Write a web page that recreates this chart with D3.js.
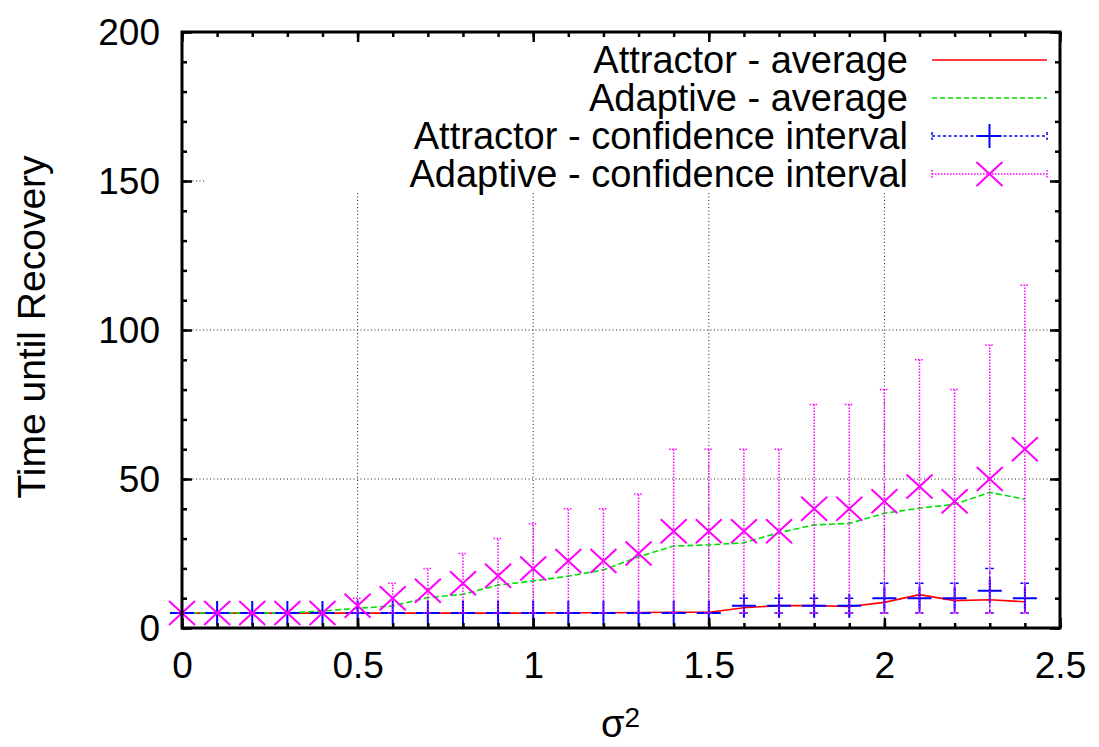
<!DOCTYPE html>
<html>
<head>
<meta charset="utf-8">
<script src="https://cdn.jsdelivr.net/npm/d3@7"></script>
<style>
  body { margin: 0; background: #fff; }
  svg text { font-family: "Liberation Sans", Arial, Helvetica, sans-serif; fill: #000; }
</style>
</head>
<body>
<svg id="chart" width="1099" height="747"></svg>
<script>
// sigma^2 sample points
const sigma2 = [0, 0.1, 0.2, 0.3, 0.4, 0.5, 0.6, 0.7, 0.8, 0.9, 1.0, 1.1, 1.2,
                1.3, 1.4, 1.5, 1.6, 1.7, 1.8, 1.9, 2.0, 2.1, 2.2, 2.3, 2.4];

// mean time until recovery
const attractorAvg = [5, 5, 5, 5, 5, 5, 5, 5, 5, 5, 5, 5.1, 5.1,
                      5.2, 5.3, 5.3, 6.8, 7.5, 7.5, 7.2, 8.6, 11.2, 9.2, 9.5, 8.8];
const adaptiveAvg = [5, 5, 5, 5, 5.7, 6.6, 7.4, 10.2, 11.3, 14.4, 15.8, 17.4, 19.5,
                     23.9, 27.5, 27.9, 28.6, 32, 34.6, 35.1, 38.5, 40.2, 41.5, 45.5, 43.2];

// confidence intervals (point, lower, upper)
const attractorMid = [5, 5, 5, 5, 5, 5, 5, 5, 5, 5, 5, 5, 5,
                      5, 5, 5, 7.5, 7.5, 7.5, 7.5, 10, 10, 10, 12.5, 10];
const attractorLow = [5, 5, 5, 5, 5, 5, 5, 5, 5, 5, 5, 5, 5,
                      5, 5, 5, 5, 5, 5, 5, 5, 5, 5, 5, 5];
const attractorHigh = [5, 5, 5, 5, 5, 5, 5, 5, 5, 5, 5, 5, 5,
                       5, 5, 5, 10, 10, 10, 10, 15, 15, 15, 20, 15];

const adaptiveMid = [5, 5, 5, 5, 5, 7.5, 10, 12.5, 15, 17.5, 20, 22.5, 22.5,
                     25, 32.5, 32.5, 32.5, 32.5, 40, 40, 42.5, 47.5, 42.5, 50, 60];
const adaptiveLow = [5, 5, 5, 5, 5, 5, 5, 5, 5, 5, 5, 5, 5,
                     5, 5, 5, 5, 5, 5, 5, 5, 5, 5, 5, 5];
const adaptiveHigh = [5, 5, 5, 5, 5, 10, 15, 20, 25, 30, 35, 40, 40,
                      45, 60, 60, 60, 60, 75, 75, 80, 90, 80, 95, 115];

// axes
const xTickValues = [0, 0.5, 1, 1.5, 2, 2.5];
const xTickLabels = ["0", "0.5", "1", "1.5", "2", "2.5"];
const yTickValues = [0, 50, 100, 150, 200];
const yTickLabels = ["0", "50", "100", "150", "200"];
const xGridValues = [0.5, 1, 1.5, 2];
const yGridValues = [50, 100, 150];

const legendLabels = ["Attractor - average", "Adaptive - average",
                      "Attractor - confidence interval", "Adaptive - confidence interval"];

const COLORS = { red: "#ff0000", green: "#00e000", blue: "#0000ff", magenta: "#ff00ff" };

const svg = d3.select("#chart");
const plotLeft = 182, plotRight = 1060, plotTop = 32, plotBottom = 628;

const x = d3.scaleLinear().domain([0, 2.5]).range([plotLeft, plotRight]);
const y = d3.scaleLinear().domain([0, 200]).range([plotBottom, plotTop]);

// grid (behind everything)
const grid = svg.append("g")
  .attr("stroke", "#222").attr("stroke-width", 1).attr("stroke-dasharray", "1,2.5");
grid.selectAll("line.gx").data(xGridValues).join("line").attr("class", "gx")
  .attr("x1", d => x(d)).attr("x2", d => x(d)).attr("y1", plotBottom).attr("y2", plotTop);
grid.selectAll("line.gy").data(yGridValues).join("line").attr("class", "gy")
  .attr("y1", d => y(d)).attr("y2", d => y(d)).attr("x1", plotLeft).attr("x2", plotRight);

// plot series
const plot = svg.append("g");

function lineOf(values) {
  return d3.line().x((d, i) => x(sigma2[i])).y(d => y(d))(values);
}

plot.append("path").attr("d", lineOf(attractorAvg))
  .attr("fill", "none").attr("stroke", COLORS.red).attr("stroke-width", 1.6);
plot.append("path").attr("d", lineOf(adaptiveAvg))
  .attr("fill", "none").attr("stroke", COLORS.green).attr("stroke-width", 1.6)
  .attr("stroke-dasharray", "6,3");

function errorBars(g, mid, low, high, color, dash, marker) {
  const capW = 4.5;
  const idx = d3.range(sigma2.length);
  const eg = g.append("g").attr("stroke", color).attr("fill", "none");
  const bars = eg.append("g").attr("stroke-width", 1.5).attr("stroke-dasharray", dash);
  bars.selectAll("line.v").data(idx).join("line").attr("class", "v")
    .attr("x1", i => x(sigma2[i])).attr("x2", i => x(sigma2[i]))
    .attr("y1", i => y(low[i])).attr("y2", i => y(high[i]));
  bars.selectAll("line.lo").data(idx).join("line").attr("class", "lo")
    .attr("x1", i => x(sigma2[i]) - capW).attr("x2", i => x(sigma2[i]) + capW)
    .attr("y1", i => y(low[i])).attr("y2", i => y(low[i]));
  bars.selectAll("line.hi").data(idx).join("line").attr("class", "hi")
    .attr("x1", i => x(sigma2[i]) - capW).attr("x2", i => x(sigma2[i]) + capW)
    .attr("y1", i => y(high[i])).attr("y2", i => y(high[i]));
  const mk = eg.append("g").attr("stroke-width", 2);
  mk.selectAll("path").data(idx).join("path")
    .attr("d", i => marker(x(sigma2[i]), y(mid[i])));
}

const plusMarker = (cx, cy) => `M${cx - 12},${cy}H${cx + 12}M${cx},${cy - 12}V${cy + 12}`;
const crossMarker = (cx, cy) =>
  `M${cx - 13},${cy - 12}L${cx + 13},${cy + 12}M${cx - 13},${cy + 12}L${cx + 13},${cy - 12}`;

errorBars(plot, attractorMid, attractorLow, attractorHigh, COLORS.blue, "3,2.5", plusMarker);
errorBars(plot, adaptiveMid, adaptiveLow, adaptiveHigh, COLORS.magenta, "1.5,1.5", crossMarker);

// opaque key area
svg.append("rect").attr("x", 205).attr("y", 34).attr("width", 844).attr("height", 157)
  .attr("fill", "#fff");

// axes: major and minor ticks pointing inward, mirrored on all sides
const FONT = 37;
const axes = svg.append("g");

function styleAxis(g) {
  g.select(".domain").remove();
  g.selectAll(".tick line").attr("stroke", "#000").attr("stroke-width", 2.5);
}

const xMinor = d3.range(0, 2.5001, 0.1);
const yMinor = d3.range(0, 200.001, 10);

axes.append("g").attr("transform", `translate(0,${plotBottom})`)
  .call(d3.axisBottom(x).tickValues(xMinor).tickSize(-5).tickFormat(""))
  .call(styleAxis);
axes.append("g").attr("transform", `translate(0,${plotTop})`)
  .call(d3.axisTop(x).tickValues(xMinor).tickSize(-5).tickFormat(""))
  .call(styleAxis);
axes.append("g").attr("transform", `translate(${plotLeft},0)`)
  .call(d3.axisLeft(y).tickValues(yMinor).tickSize(-5).tickFormat(""))
  .call(styleAxis);
axes.append("g").attr("transform", `translate(${plotRight},0)`)
  .call(d3.axisRight(y).tickValues(yMinor).tickSize(-5).tickFormat(""))
  .call(styleAxis);

axes.append("g").attr("transform", `translate(0,${plotTop})`)
  .call(d3.axisTop(x).tickValues(xTickValues).tickSize(-10).tickFormat(""))
  .call(styleAxis);
axes.append("g").attr("transform", `translate(${plotRight},0)`)
  .call(d3.axisRight(y).tickValues(yTickValues).tickSize(-10).tickFormat(""))
  .call(styleAxis);

const xAxis = axes.append("g").attr("transform", `translate(0,${plotBottom})`)
  .call(d3.axisBottom(x).tickValues(xTickValues).tickSize(-10).tickPadding(24)
    .tickFormat((d, i) => xTickLabels[i]))
  .call(styleAxis);
xAxis.selectAll(".tick text").attr("font-size", FONT).attr("fill", "#000")
  .attr("font-family", "Liberation Sans, Arial, sans-serif");

const yAxis = axes.append("g").attr("transform", `translate(${plotLeft},0)`)
  .call(d3.axisLeft(y).tickValues(yTickValues).tickSize(-10).tickPadding(22)
    .tickFormat((d, i) => yTickLabels[i]))
  .call(styleAxis);
yAxis.selectAll(".tick text").attr("font-size", FONT).attr("fill", "#000")
  .attr("dy", "0.35em").attr("font-family", "Liberation Sans, Arial, sans-serif");

// frame
svg.append("rect").attr("x", plotLeft).attr("y", plotTop)
  .attr("width", plotRight - plotLeft).attr("height", plotBottom - plotTop)
  .attr("fill", "none").attr("stroke", "#000").attr("stroke-width", 3);

// axis titles
const xTitle = svg.append("text").attr("x", 601).attr("y", 737).attr("font-size", 38);
xTitle.append("tspan").text("σ");
xTitle.append("tspan").attr("font-size", 28).attr("dy", -10).text("2");

svg.append("text")
  .attr("transform", `translate(45,327) rotate(-90)`)
  .attr("text-anchor", "middle").attr("font-size", 39)
  .text("Time until Recovery");

// key
const key = svg.append("g");
const rowY = (i) => 60 + i * 38;
const sx1 = 932, sx2 = 1047, smid = (sx1 + sx2) / 2;

key.selectAll("text").data(legendLabels).join("text")
  .attr("x", 908).attr("y", (d, i) => rowY(i) + 13)
  .attr("text-anchor", "end").attr("font-size", 38).text(d => d);

key.append("line").attr("x1", sx1).attr("x2", sx2).attr("y1", rowY(0)).attr("y2", rowY(0))
  .attr("stroke", COLORS.red).attr("stroke-width", 1.6);
key.append("line").attr("x1", sx1).attr("x2", sx2).attr("y1", rowY(1)).attr("y2", rowY(1))
  .attr("stroke", COLORS.green).attr("stroke-width", 1.6).attr("stroke-dasharray", "5,3");

function keyErrorSample(i, color, dash, marker) {
  const g = key.append("g").attr("stroke", color).attr("fill", "none");
  const yy = rowY(i);
  g.append("path").attr("stroke-width", 1.5).attr("stroke-dasharray", dash)
    .attr("d", `M${sx1},${yy}H${sx2}M${sx1},${yy - 4}V${yy + 4}M${sx2},${yy - 4}V${yy + 4}`);
  g.append("path").attr("stroke-width", 2).attr("d", marker(smid, yy));
}
keyErrorSample(2, COLORS.blue, "3,2.5", plusMarker);
keyErrorSample(3, COLORS.magenta, "1.5,1.5", crossMarker);
</script>
</body>
</html>
